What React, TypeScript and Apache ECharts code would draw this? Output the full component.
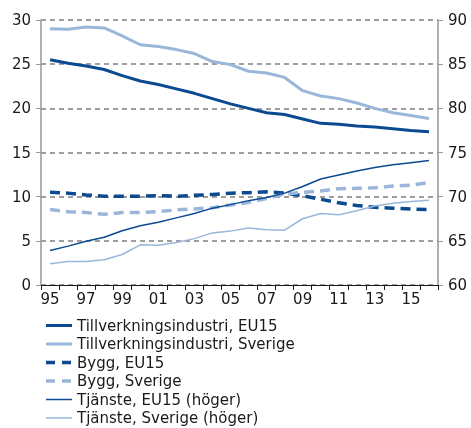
import React, { useEffect, useRef } from "react";
import * as echarts from "echarts";

const years = ["95","96","97","98","99","00","01","02","03","04","05","06","07","08","09","10","11","12","13","14","15","16"];

const tillvEU15 = [25.5, 25.1, 24.8, 24.4, 23.7, 23.1, 22.7, 22.2, 21.7, 21.1, 20.5, 20.0, 19.5, 19.3, 18.8, 18.3, 18.2, 18.0, 17.9, 17.7, 17.5, 17.35];
const tillvSverige = [29.0, 28.95, 29.2, 29.1, 28.2, 27.2, 27.0, 26.65, 26.2, 25.3, 24.95, 24.2, 24.0, 23.5, 22.0, 21.4, 21.1, 20.6, 20.0, 19.5, 19.2, 18.85];
const byggEU15 = [10.5, 10.4, 10.2, 10.05, 10.05, 10.05, 10.1, 10.05, 10.15, 10.25, 10.4, 10.45, 10.55, 10.4, 10.1, 9.7, 9.3, 9.0, 8.8, 8.7, 8.6, 8.55];
const byggSverige = [8.55, 8.3, 8.2, 8.0, 8.2, 8.2, 8.3, 8.5, 8.6, 8.75, 9.05, 9.35, 9.8, 10.3, 10.5, 10.65, 10.9, 10.95, 11.0, 11.2, 11.3, 11.6];
const tjansteEU15 = [63.9, 64.4, 64.95, 65.4, 66.15, 66.7, 67.1, 67.6, 68.1, 68.7, 69.1, 69.55, 69.9, 70.4, 71.15, 72.0, 72.45, 72.9, 73.3, 73.6, 73.85, 74.1];
const tjansteSverige = [62.4, 62.65, 62.65, 62.85, 63.45, 64.55, 64.5, 64.8, 65.25, 65.9, 66.1, 66.45, 66.25, 66.2, 67.5, 68.1, 67.95, 68.4, 68.95, 69.25, 69.45, 69.6];

const names = [
  "Tillverkningsindustri, EU15",
  "Tillverkningsindustri, Sverige",
  "Bygg, EU15",
  "Bygg, Sverige",
  "Tjänste, EU15 (höger)",
  "Tjänste, Sverige (höger)",
];

const DARK = "#0b4a91";
const LIGHT = "#9ab7da";
const FONT = "DejaVu Sans";

export default function App() {
  const ref = useRef<HTMLDivElement>(null);
  useEffect(() => {
    if (!ref.current) return;
    const chart = echarts.init(ref.current, undefined, { renderer: "svg" });
    const styles = [
      { color: DARK, width: 3, dash: null as number[] | null, axis: 0, data: tillvEU15 },
      { color: LIGHT, width: 3, dash: null, axis: 0, data: tillvSverige },
      { color: DARK, width: 3.5, dash: [10, 6], axis: 0, data: byggEU15 },
      { color: LIGHT, width: 3.5, dash: [10, 6], axis: 0, data: byggSverige },
      { color: DARK, width: 1.5, dash: null, axis: 1, data: tjansteEU15 },
      { color: LIGHT, width: 1.5, dash: null, axis: 1, data: tjansteSverige },
    ];
    const legendItems: any[] = [];
    names.forEach((n, i) => {
      const s = styles[i];
      const y = 325.5 + i * 18.5;
      legendItems.push({
        type: "line",
        shape: { x1: 46, y1: y, x2: 72, y2: y },
        style: { stroke: s.color, lineWidth: s.width, lineDash: s.dash ? [9, 7] : undefined },
      });
      legendItems.push({
        type: "text",
        x: 77,
        y,
        style: { text: n, fontFamily: FONT, fontSize: 15, fill: "#1a1a1a", verticalAlign: "middle", align: "left" },
      });
    });
    chart.setOption({
      animation: false,
      textStyle: { fontFamily: FONT },
      grid: { left: 41, right: 33, top: 20, bottom: 143, containLabel: false },
      graphic: legendItems,
      xAxis: {
        type: "category",
        data: years,
        boundaryGap: true,
        axisLine: { lineStyle: { color: "#1a1a1a", width: 1 } },
        axisTick: { show: true, interval: 0, length: 5, lineStyle: { color: "#1a1a1a" } },
        axisLabel: { interval: 1, fontFamily: FONT, fontSize: 15, color: "#1a1a1a", margin: 6 },
        splitLine: { show: false },
      },
      yAxis: [
        {
          type: "value",
          min: 0,
          max: 30,
          interval: 5,
          position: "left",
          axisLine: { show: true, lineStyle: { color: "#999999", width: 1.5 } },
          axisTick: { show: true, length: 5, lineStyle: { color: "#999999" } },
          axisLabel: { fontFamily: FONT, fontSize: 15, color: "#1a1a1a", margin: 10 },
          splitLine: { show: true, lineStyle: { color: "#7f7f7f", width: 1.5, type: [5, 4] } },
        },
        {
          type: "value",
          min: 60,
          max: 90,
          interval: 5,
          position: "right",
          axisLine: { show: true, lineStyle: { color: "#999999", width: 1.5 } },
          axisTick: { show: true, length: 5, lineStyle: { color: "#999999" } },
          axisLabel: { fontFamily: FONT, fontSize: 15, color: "#1a1a1a", margin: 10 },
          splitLine: { show: false },
        },
      ],
      series: names.map((n, i) => ({
        name: n,
        type: "line",
        data: styles[i].data,
        yAxisIndex: styles[i].axis,
        showSymbol: false,
        symbol: "none",
        lineStyle: { color: styles[i].color, width: styles[i].width, type: styles[i].dash ? styles[i].dash : "solid" },
        itemStyle: { color: styles[i].color },
      })),
    });
    return () => chart.dispose();
  }, []);
  return <div ref={ref} style={{ position: "fixed", left: 0, top: 0, width: 471, height: 428 }} />;
}
